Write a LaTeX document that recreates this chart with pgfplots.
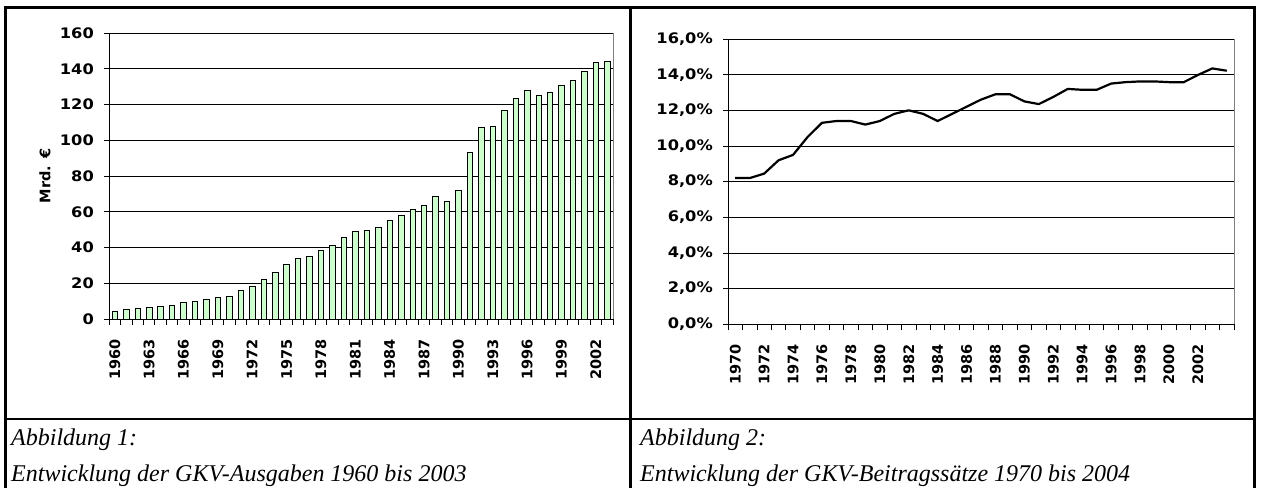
\documentclass[border=0pt]{standalone}
\usepackage{fontspec}
\usepackage{pgfplots}
\usepackage{pgfplotstable}
\pgfplotsset{compat=1.18}
\setmainfont{Liberation Serif}
\newfontfamily\chartfont{DejaVu Sans}
\newfontfamily\ytickfont{DejaVu Sans}[FakeStretch=1.12]
\definecolor{barfill}{HTML}{CCFFCC}

% GKV-Ausgaben in Mrd. Euro
\pgfplotstableread{
year value
1960 4.5
1961 5.4
1962 6.0
1963 6.7
1964 7.1
1965 7.8
1966 9.3
1967 9.9
1968 11.2
1969 12.3
1970 12.7
1971 15.9
1972 18.5
1973 22.2
1974 26.3
1975 30.8
1976 33.7
1977 35.2
1978 38.2
1979 41.2
1980 45.7
1981 49.2
1982 49.6
1983 51.3
1984 55.2
1985 58.0
1986 61.2
1987 63.6
1988 68.4
1989 65.8
1990 71.8
1991 93.4
1992 107.4
1993 107.8
1994 116.9
1995 123.6
1996 127.9
1997 125.1
1998 127.0
1999 130.5
2000 133.3
2001 138.7
2002 143.4
2003 144.1
}\ausgaben

% Beitragssatz in Prozent
\pgfplotstableread{
year rate
1970 8.2
1971 8.2
1972 8.45
1973 9.2
1974 9.5
1975 10.5
1976 11.3
1977 11.4
1978 11.4
1979 11.2
1980 11.4
1981 11.8
1982 12.0
1983 11.8
1984 11.4
1985 11.8
1986 12.2
1987 12.6
1988 12.9
1989 12.9
1990 12.5
1991 12.35
1992 12.75
1993 13.2
1994 13.15
1995 13.15
1996 13.5
1997 13.58
1998 13.62
1999 13.62
2000 13.58
2001 13.57
2002 13.98
2003 14.35
2004 14.22
}\beitrag

\pgfplotsset{excelstyle/.style={
  scale only axis,
  axis lines=left,
  axis line style={-, line width=0.9bp, black},
  ymajorgrids,
  major grid style={black, line width=0.8bp},
  tick align=outside,
  tick style={black, line width=0.8bp},
  major tick length=5bp,
  minor tick length=6bp,
  major x tick style={draw=none},
  /pgf/number format/1000 sep={},
  /pgf/number format/assume math mode=true,
  xticklabel shift=14bp,
  yticklabel shift=9bp,
  xticklabel style={rotate=90, anchor=east, inner sep=1bp,
    font=\chartfont\bfseries\fontsize{14.5bp}{16bp}\selectfont},
  yticklabel style={inner sep=1bp,
    font=\ytickfont\bfseries\fontsize{14.5bp}{16bp}\selectfont},
  clip=false,
}}

\begin{document}
\begin{tikzpicture}
\useasboundingbox (0,0) rectangle (1261bp,488bp);

% chart 1
\begin{axis}[excelstyle,
  at={(109bp,169bp)}, anchor=south west,
  width=504bp, height=286bp,
  xmin=1959.5, xmax=2003.5,
  ymin=0, ymax=160,
  xtick={1960,1963,...,2002},
  minor xtick={1959.5,1960.5,...,2003.5},
  ytick={0,20,...,160},
  ylabel={Mrd. €},
  ylabel style={at={(axis description cs:-0.127,0.5)}, anchor=center,
    font=\chartfont\bfseries\fontsize{14.5bp}{16bp}\selectfont},
]
\addplot[ybar, bar width=5.5bp, fill=barfill, draw=black, line width=0.6bp]
  table[x=year, y=value] {\ausgaben};
\draw[gray, line width=0.8bp] (rel axis cs:1,0) -- (rel axis cs:1,1);
\end{axis}

% chart 2
\begin{axis}[excelstyle,
  at={(728bp,163.7bp)}, anchor=south west,
  width=506bp, height=285.3bp,
  xmin=1969.5, xmax=2004.5,
  ymin=0, ymax=16,
  xtick={1970,1972,...,2002},
  minor xtick={1969.5,1970.5,...,2004.5},
  ytick={0,2,...,16},
  yticklabels={{0,0\%},{2,0\%},{4,0\%},{6,0\%},{8,0\%},{10,0\%},{12,0\%},{14,0\%},{16,0\%}},
]
\addplot[black, line width=2.2bp, line join=round] table[x=year, y=rate] {\beitrag};
\draw[gray, line width=0.8bp] (rel axis cs:1,0) -- (rel axis cs:1,1);
\end{axis}

% table frame
\draw[line width=2.6bp] (5.5bp,0) -- (5.5bp,480.7bp) -- (1254.3bp,480.7bp) -- (1254.3bp,0);
\draw[line width=2.6bp] (630.5bp,0) -- (630.5bp,480.7bp);
\draw[line width=2.6bp] (5.5bp,69bp) -- (1254.3bp,69bp);

% captions
\begin{scope}[every node/.style={anchor=base west, inner sep=0pt,
    font=\itshape\fontsize{24bp}{28bp}\selectfont}]
\node at (11bp,42bp) {Abbildung 1:};
\node at (11bp,6.5bp) {Entwicklung der GKV-Ausgaben 1960 bis 2003};
\node at (640bp,42bp) {Abbildung 2:};
\node at (640bp,6.5bp) {Entwicklung der GKV-Beitragssätze 1970 bis 2004};
\end{scope}
\end{tikzpicture}
\end{document}
